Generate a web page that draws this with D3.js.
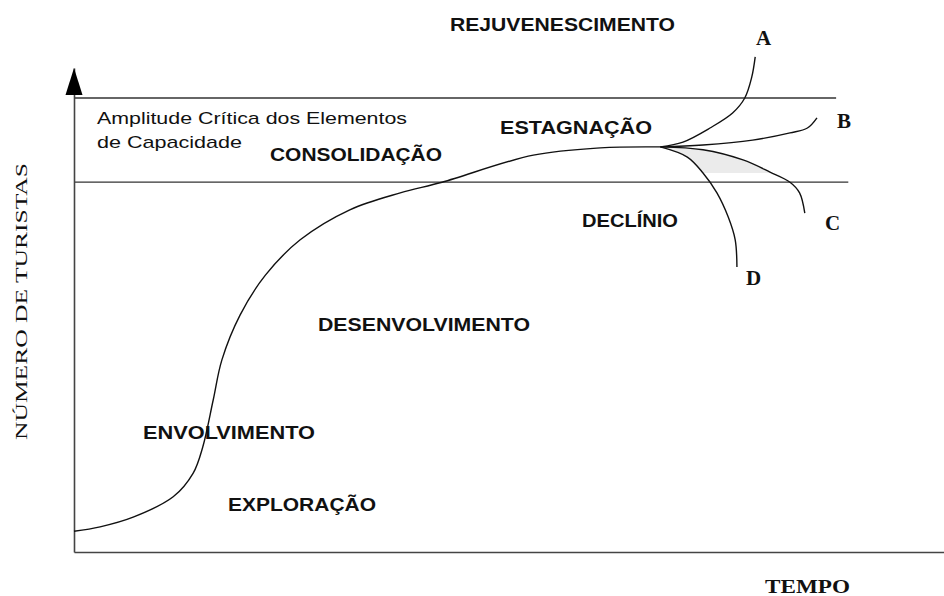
<!DOCTYPE html>
<html>
<head>
<meta charset="utf-8">
<script src="https://cdn.jsdelivr.net/npm/d3@7"></script>
<style>
  body { margin: 0; background: #fff; }
  svg { display: block; }
  .fase { font-family: "Liberation Sans", Arial, sans-serif; font-weight: bold; font-size: 18px; fill: #111; }
  .nota { font-family: "Liberation Sans", Arial, sans-serif; font-size: 17px; fill: #111; }
  .serif { font-family: "Liberation Serif", "Times New Roman", serif; fill: #111; }
</style>
</head>
<body>
<svg id="canvas"></svg>
<script>
// curva principal (tempo x numero de turistas, em % da altura do eixo)
let tempoPrincipal = [0, 3, 6.8, 11.4, 13.7, 14.8, 16.0, 17.0, 19.1, 22.0, 26.0, 31.7, 37.5, 42.3, 52.8, 60.5, 67.4]
let turistasPrincipal = [4.3, 5.2, 7.2, 11.4, 16.3, 21.7, 31.4, 39.7, 49.0, 57.2, 64.5, 70.7, 74.2, 76.4, 82.0, 83.5, 83.7]

// ramos depois da estagnacao
let ramos = ['A', 'B', 'C', 'D']
let tempoRamos = {
  A: [67.4, 70.0, 73.1, 75.7, 77.1, 77.9, 78.3],
  B: [67.4, 72.3, 78.0, 82.3, 84.3, 85.4],
  C: [67.4, 72.3, 76.9, 80.0, 82.3, 83.4, 84.0],
  D: [67.4, 70.5, 72.3, 73.9, 75.2, 76.0, 76.2]
}
let turistasRamos = {
  A: [83.7, 84.7, 87.6, 90.7, 93.8, 98.1, 102.3],
  B: [83.7, 84.1, 85.1, 86.6, 87.6, 89.7],
  C: [83.7, 83.1, 81.0, 78.5, 76.4, 74.2, 70.0],
  D: [83.7, 81.6, 78.3, 74.2, 69.2, 64.5, 58.9]
}

// faixa critica de capacidade
let limitesCapacidade = [93.8, 76.4]
let fimLimites = [87.6, 89.0]
let corteSombra = 78.3

let fases = ['REJUVENESCIMENTO', 'ESTAGNAÇÃO', 'CONSOLIDAÇÃO', 'DECLÍNIO', 'DESENVOLVIMENTO', 'ENVOLVIMENTO', 'EXPLORAÇÃO']
let notaCapacidade = ['Amplitude Crítica dos Elementos', 'de Capacidade']
let tituloX = 'TEMPO'
let tituloY = 'NÚMERO DE TURISTAS'

const width = 944
const height = 596

// posicao dos textos (px): x, linha de base, comprimento
let posFases = [
  [450, 31, 225], [500, 134, 152], [270, 161, 172], [582, 227, 96],
  [318, 331, 212], [143, 439, 172], [228, 511, 148]
]
let posNota = [[97, 124, 310], [97, 148, 145]]
let posRamos = { A: [756, 45], B: [837, 128], C: [825, 230], D: [746, 285] }

let canvas = d3.select('#canvas')
canvas.attr('width', width)
canvas.attr('height', height)

let xScale = d3.scaleLinear().domain([0, 100]).range([74, 944])
let yScale = d3.scaleLinear().domain([0, 100]).range([552, 68])

let line = d3.line()
  .x(d => xScale(d[0]))
  .y(d => yScale(d[1]))
  .curve(d3.curveCatmullRom.alpha(0.5))

let drawChart = () => {

  // sombra entre C e D
  let pontosC = d3.zip(tempoRamos.C, turistasRamos.C)
  let pontosD = d3.zip(tempoRamos.D, turistasRamos.D)
  canvas.append('clipPath').attr('id', 'corte')
    .append('rect')
    .attr('x', 0).attr('y', 0)
    .attr('width', width).attr('height', yScale(corteSombra))
  canvas.append('path')
    .attr('d', line(pontosC) + line(pontosD.slice().reverse()).replace('M', 'L') + 'Z')
    .attr('fill', '#ebebeb')
    .attr('stroke', 'none')
    .attr('clip-path', 'url(#corte)')

  // linhas de capacidade
  canvas.selectAll('.limite')
    .data(limitesCapacidade)
    .enter()
    .append('line')
    .attr('class', 'limite')
    .attr('x1', xScale(0))
    .attr('x2', (d, i) => xScale(fimLimites[i]))
    .attr('y1', d => yScale(d))
    .attr('y2', d => yScale(d))
    .attr('stroke', '#333')
    .attr('stroke-width', 1.3)

  // eixos
  let eixoX = d3.axisBottom(xScale).tickValues([]).tickSizeOuter(0)
  let eixoY = d3.axisLeft(yScale).tickValues([]).tickSizeOuter(0)
  canvas.append('g').attr('transform', 'translate(0,' + yScale(0) + ')').call(eixoX)
  canvas.append('g').attr('transform', 'translate(' + xScale(0) + ',0)').call(eixoY)
  canvas.selectAll('.domain').attr('stroke', '#444').attr('stroke-width', 1.6)

  // seta do eixo y
  let xs = xScale(0)
  let topo = yScale(100)
  let base = yScale(94.4)
  canvas.append('path')
    .attr('d', 'M' + xs + ',' + topo + 'L' + (xs + 8.5) + ',' + base + 'L' + (xs - 8.5) + ',' + base + 'Z')
    .attr('fill', '#000')

  // curva principal
  canvas.append('path')
    .attr('d', line(d3.zip(tempoPrincipal, turistasPrincipal)))
    .attr('fill', 'none')
    .attr('stroke', '#111')
    .attr('stroke-width', 1.4)

  // ramos
  canvas.selectAll('.ramo')
    .data(ramos)
    .enter()
    .append('path')
    .attr('class', 'ramo')
    .attr('d', r => line(d3.zip(tempoRamos[r], turistasRamos[r])))
    .attr('fill', 'none')
    .attr('stroke', '#111')
    .attr('stroke-width', 1.4)

  canvas.selectAll('.letra')
    .data(ramos)
    .enter()
    .append('text')
    .attr('class', 'serif')
    .attr('x', r => posRamos[r][0])
    .attr('y', r => posRamos[r][1])
    .attr('font-size', 21)
    .attr('font-weight', 'bold')
    .text(r => r)

  // fases
  canvas.selectAll('.fase')
    .data(fases)
    .enter()
    .append('text')
    .attr('class', 'fase')
    .attr('x', (d, i) => posFases[i][0])
    .attr('y', (d, i) => posFases[i][1])
    .attr('textLength', (d, i) => posFases[i][2])
    .attr('lengthAdjust', 'spacingAndGlyphs')
    .text(d => d)

  canvas.selectAll('.nota')
    .data(notaCapacidade)
    .enter()
    .append('text')
    .attr('class', 'nota')
    .attr('x', (d, i) => posNota[i][0])
    .attr('y', (d, i) => posNota[i][1])
    .attr('textLength', (d, i) => posNota[i][2])
    .attr('lengthAdjust', 'spacingAndGlyphs')
    .text(d => d)

  // titulos dos eixos
  canvas.append('text')
    .attr('class', 'serif')
    .attr('x', 765).attr('y', 593)
    .attr('font-size', 19)
    .attr('font-weight', 'bold')
    .attr('textLength', 85)
    .attr('lengthAdjust', 'spacingAndGlyphs')
    .text(tituloX)

  canvas.append('text')
    .attr('class', 'serif')
    .attr('transform', 'translate(27,440) rotate(-90)')
    .attr('font-size', 16)
    .attr('textLength', 277)
    .attr('lengthAdjust', 'spacingAndGlyphs')
    .text(tituloY)
}

drawChart()
</script>
</body>
</html>
